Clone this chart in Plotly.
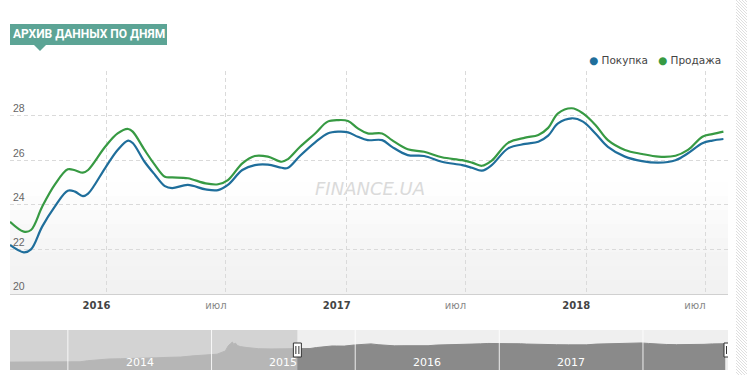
import plotly.graph_objects as go

# ---------------- data ----------------
dates = ["2015-08-07", "2015-08-28", "2015-09-08", "2015-09-25", "2015-10-14", "2015-11-03",
         "2015-11-14", "2015-11-26", "2015-12-04", "2015-12-30", "2016-01-18", "2016-02-03",
         "2016-02-10", "2016-02-28", "2016-03-15", "2016-03-30", "2016-04-10", "2016-05-04",
         "2016-05-31", "2016-06-19", "2016-07-04", "2016-07-26", "2016-08-14", "2016-09-03",
         "2016-09-24", "2016-10-03", "2016-10-22", "2016-11-14", "2016-12-03", "2016-12-19",
         "2017-01-03", "2017-01-18", "2017-02-02", "2017-02-24", "2017-03-11", "2017-04-04",
         "2017-04-29", "2017-05-26", "2017-06-26", "2017-07-11", "2017-07-26", "2017-08-10",
         "2017-09-04", "2017-09-30", "2017-10-20", "2017-11-04", "2017-11-19", "2017-12-10",
         "2017-12-27", "2018-01-15", "2018-02-03", "2018-03-01", "2018-03-27", "2018-04-21",
         "2018-05-17", "2018-06-05", "2018-06-27", "2018-07-12", "2018-07-29"]

buy = [22.20, 21.87, 22.00, 23.02, 23.91, 24.63, 24.59, 24.39, 24.50, 25.65, 26.46, 26.88,
       26.77, 25.93, 25.34, 24.84, 24.75, 24.89, 24.69, 24.66, 24.89, 25.56, 25.78, 25.80,
       25.66, 25.65, 26.20, 26.80, 27.20, 27.28, 27.25, 27.05, 26.90, 26.90, 26.60, 26.23,
       26.19, 25.93, 25.78, 25.66, 25.53, 25.78, 26.53, 26.73, 26.83, 27.10, 27.65, 27.88,
       27.73, 27.20, 26.60, 26.16, 25.96, 25.89, 26.00, 26.31, 26.76, 26.88, 26.95]

sell = [23.24, 22.80, 22.87, 23.91, 24.89, 25.59, 25.55, 25.44, 25.56, 26.60, 27.20, 27.40,
        27.28, 26.46, 25.78, 25.26, 25.23, 25.19, 24.96, 24.92, 25.11, 25.86, 26.19, 26.16,
        25.93, 26.04, 26.60, 27.20, 27.73, 27.80, 27.76, 27.43, 27.20, 27.20, 26.90, 26.49,
        26.38, 26.13, 26.00, 25.89, 25.75, 25.98, 26.78, 27.01, 27.13, 27.45, 28.10, 28.33,
        28.10, 27.58, 26.90, 26.46, 26.28, 26.16, 26.20, 26.46, 27.05, 27.17, 27.28]

# navigator history before the selected window
nav_dates = ["2013-08-07", "2013-09-01", "2013-10-01", "2013-11-01", "2013-12-01", "2014-01-01",
             "2014-02-01", "2014-02-20", "2014-03-15", "2014-04-15", "2014-05-15", "2014-06-15",
             "2014-07-15", "2014-08-15", "2014-09-15", "2014-10-15", "2014-11-15", "2014-12-15",
             "2015-01-15", "2015-02-05", "2015-02-12", "2015-02-18", "2015-02-23", "2015-02-26",
             "2015-03-03", "2015-03-08", "2015-03-15", "2015-04-01", "2015-05-01", "2015-06-01",
             "2015-07-01", "2015-08-01"]
nav_vals = [8.1, 8.1, 8.1, 8.15, 8.2, 8.2,
            8.4, 9.5, 10.5, 11.3, 11.5, 11.7,
            11.8, 12.5, 13.0, 13.3, 14.5, 15.6,
            16.2, 19.5, 24.5, 27.0, 28.6, 26.5,
            27.5, 25.0, 24.0, 23.0, 21.8, 21.6,
            21.8, 22.0]

y_ticks = [20, 22, 24, 26, 28, 30]
y_text = ["20", "22", "24", "26", "28", ""]
x_ticks = ["2016-01-01", "2016-07-01", "2017-01-01", "2017-07-01", "2018-01-01", "2018-07-01"]
x_text = ["2016", "июл", "2017", "июл", "2018", "июл"]
nav_years = ["2014", "2015", "2016", "2017"]
nav_grid = ["2014-01-01", "2015-01-01", "2016-01-01", "2017-01-01", "2018-01-01"]

view_start, view_end = "2015-08-07", "2018-08-05"
nav_start = "2013-08-07"

BLUE = "#1f6e9b"
GREEN = "#379a43"
TEAL = "#5ca495"

# ---------------- geometry helpers ----------------
W, H = 747, 375
ML, MR, MT, MB = 10, 19, 71, 5
PW, PH = W - ML - MR, H - MT - MB


def px(x):
    return (x - ML) / PW


def py(y):
    return (H - MB - y) / PH


fig = go.Figure()

# navigator area
fig.add_trace(go.Scatter(x=nav_dates + dates, y=nav_vals + buy, mode="lines",
                         line=dict(color="#8a8a8a", width=1), fill="tozeroy",
                         fillcolor="#8a8a8a", xaxis="x2", yaxis="y2",
                         hoverinfo="skip", showlegend=False))

fig.add_trace(go.Scatter(x=dates, y=buy, name="Покупка", mode="lines",
                         line=dict(color=BLUE, width=2.2, shape="spline", smoothing=1.0),
                         showlegend=False))
fig.add_trace(go.Scatter(x=dates, y=sell, name="Продажа", mode="lines",
                         line=dict(color=GREEN, width=2.2, shape="spline", smoothing=1.0),
                         showlegend=False))

shapes = []
# main plot lower gradient background
grad = ["#fefefe", "#fcfcfc", "#fafafa", "#f8f8f8", "#f6f6f6", "#f4f4f4", "#f3f3f3", "#f2f2f2"]
top_px, bot_px = 182, 294
n = len(grad)
for i, c in enumerate(grad):
    y0 = top_px + (bot_px - top_px) * i / n
    y1 = top_px + (bot_px - top_px) * (i + 1) / n
    shapes.append(dict(type="rect", xref="x domain", yref="paper", x0=0, x1=1,
                       y0=py(y1), y1=py(y0), fillcolor=c, line=dict(width=0), layer="below"))

# navigator background
shapes.append(dict(type="rect", xref="x2 domain", yref="y2 domain", x0=0, x1=1, y0=0, y1=1,
                   fillcolor="#efefef", line=dict(width=0), layer="below"))
# mask of unselected period
shapes.append(dict(type="rect", xref="x2", yref="y2 domain", x0=nav_start, x1=view_start,
                   y0=0, y1=1, fillcolor="rgba(199,199,199,0.72)", line=dict(width=0),
                   layer="above"))
# navigator year lines
for g in nav_grid:
    shapes.append(dict(type="line", xref="x2", yref="y2 domain", x0=g, x1=g, y0=0, y1=1,
                       line=dict(color="rgba(255,255,255,0.85)", width=1), layer="above"))
# handles
for hx in [view_start, view_end]:
    shapes.append(dict(type="rect", xref="x2", yref="y2 domain", xsizemode="pixel",
                       ysizemode="pixel", xanchor=hx, yanchor=0.5, x0=-4, x1=4, y0=-7, y1=7,
                       fillcolor="white", line=dict(color="#333", width=1), layer="above"))
    for dx in [-1.5, 1.5]:
        shapes.append(dict(type="line", xref="x2", yref="y2 domain", xsizemode="pixel",
                           ysizemode="pixel", xanchor=hx, yanchor=0.5, x0=dx, x1=dx,
                           y0=-4, y1=4, line=dict(color="#333", width=1), layer="above"))

# title badge
shapes.append(dict(type="rect", xref="paper", yref="paper", x0=px(10), x1=px(167),
                   y0=py(45), y1=py(24), fillcolor=TEAL, line=dict(width=0)))
shapes.append(dict(type="path", xref="paper", yref="paper",
                   path=f"M {px(34)} {py(45)} L {px(46)} {py(45)} L {px(40)} {py(51)} Z",
                   fillcolor=TEAL, line=dict(width=0)))

# hatched strip at right edge
segs = []
for k in range(-15, 380, 3):
    segs.append(f"M {px(736)} {py(k)} L {px(747)} {py(k + 11)}")
shapes.append(dict(type="path", xref="paper", yref="paper", path=" ".join(segs),
                   line=dict(color="#dedede", width=1)))

annotations = []
annotations.append(dict(xref="paper", yref="paper", x=px(88.5), y=py(34.5),
                        xanchor="center", yanchor="middle", showarrow=False,
                        text="<b>АРХИВ ДАННЫХ ПО ДНЯМ</b>",
                        font=dict(family="Roboto, Liberation Sans, sans-serif",
                                  size=12, color="white")))
annotations.append(dict(xref="paper", yref="paper", x=px(723), y=py(60),
                        xanchor="right", yanchor="middle", showarrow=False,
                        text=f"<span style='color:{BLUE}'>●</span> Покупка&nbsp;&nbsp; "
                             f"<span style='color:{GREEN}'>●</span> Продажа",
                        font=dict(family="DejaVu Sans, Verdana, sans-serif", size=10.5,
                                  color="#444")))
annotations.append(dict(xref="paper", yref="paper", x=px(370), y=py(188),
                        xanchor="center", yanchor="middle", showarrow=False,
                        text="FINANCE.UA",
                        font=dict(family="DejaVu Sans, sans-serif", size=18, color="#dadada",
                                  style="italic")))
for yr in nav_years:
    annotations.append(dict(xref="x2", yref="y2 domain", x=f"{yr}-07-02", y=0.2,
                            xanchor="center", yanchor="middle", showarrow=False, text=yr,
                            font=dict(family="DejaVu Sans, sans-serif", size=11, color="white")))

tick_html = [f"<b><span style='color:#444'>{t}</span></b>" if t.isdigit() else t for t in x_text]

fig.update_layout(
    width=W, height=H,
    margin=dict(l=ML, r=MR, t=MT, b=MB),
    paper_bgcolor="white", plot_bgcolor="white",
    showlegend=False,
    shapes=shapes, annotations=annotations,
    xaxis=dict(domain=[0, 1], range=[view_start, view_end], type="date", anchor="y",
               tickvals=x_ticks, ticktext=tick_html, ticks="", showgrid=True,
               gridcolor="#dadada", griddash="4px,3px", gridwidth=1,
               showline=True, linecolor="#d0d0d0", linewidth=1, zeroline=False,
               ticklabelshift=-10, ticklabelstandoff=2,
               tickfont=dict(family="DejaVu Sans, Verdana, sans-serif", size=10, color="#888")),
    yaxis=dict(domain=[py(294), 1], range=[20, 30], anchor="x",
               tickvals=y_ticks, ticktext=y_text, ticks="", showgrid=True,
               gridcolor="#dadada", griddash="4px,3px", gridwidth=1, zeroline=False,
               ticklabelposition="inside top",
               tickfont=dict(family="Liberation Sans, Arial, sans-serif", size=10.5, color="#666")),
    xaxis2=dict(domain=[0, 1], range=[nav_start, view_end], type="date", anchor="y2",
                showticklabels=False, showgrid=False, zeroline=False, ticks=""),
    yaxis2=dict(domain=[0, py(330)], range=[0, 41], anchor="x2", showticklabels=False,
                showgrid=False, zeroline=False, ticks=""),
)

fig.write_html("out.html", post_script="document.body.style.margin='0';",
               config={"displayModeBar": False})
